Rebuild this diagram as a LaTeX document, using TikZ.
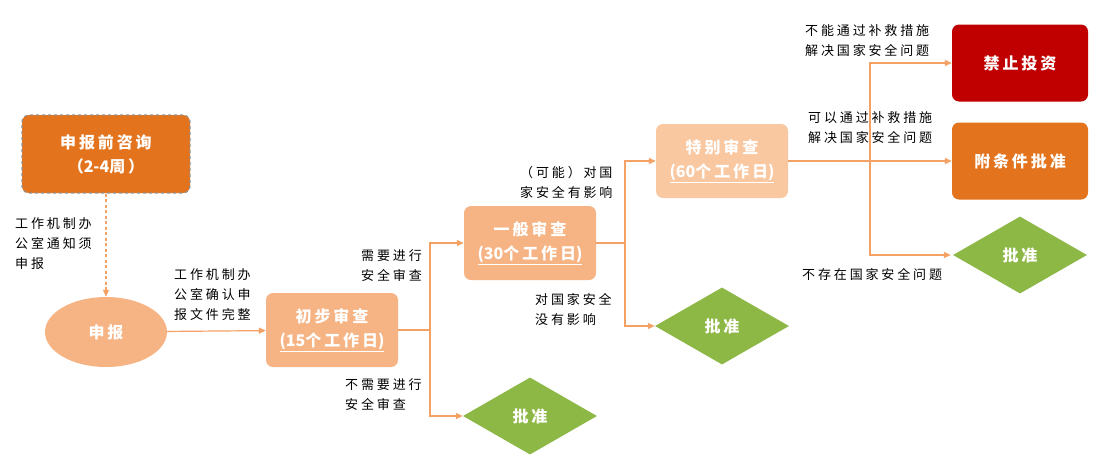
\documentclass[tikz,border=0pt]{standalone}
\usepackage{fontspec}
\setmainfont{Noto Sans CJK SC}
\newfontfamily\boxcjk[LetterSpace=18]{Noto Sans CJK SC}
\newfontfamily\labcjk[LetterSpace=22]{Noto Sans CJK SC}
\newfontfamily\digcjk{Noto Sans CJK SC}
\def\boxfont{\boxcjk\fontsize{16}{24}\selectfont\bfseries}
\def\labfont{\labcjk\fontsize{13}{20}\selectfont}
\def\dig#1{{\digcjk\bfseries #1}}
\usetikzlibrary{shapes.geometric,arrows.meta}
\definecolor{deeporange}{HTML}{E3731D}
\definecolor{softorange}{HTML}{F6B484}
\definecolor{paleorange}{HTML}{F9C7A0}
\definecolor{okgreen}{HTML}{8DB845}
\definecolor{banred}{HTML}{C00000}
\definecolor{lineorange}{HTML}{F3A164}
\begin{document}
\begin{tikzpicture}[x=1pt,y=-1pt,
			consult/.style={rectangle,rounded corners=7pt,draw=gray!85,dashed,line width=1.2pt,fill=deeporange,minimum width=168pt,minimum height=78pt,align=center,text=white,font=\boxfont},
			review/.style={rectangle,rounded corners=7pt,fill=softorange,minimum width=132pt,minimum height=74pt,align=center,text=white,font=\boxfont},
			report/.style={ellipse,fill=softorange,minimum width=122pt,minimum height=70pt,inner sep=0pt,text=white,font=\boxfont},
			approve/.style={diamond,fill=okgreen,minimum width=134pt,minimum height=77pt,inner sep=0pt,text=white,font=\boxfont},
			result/.style={rectangle,rounded corners=7pt,minimum width=136pt,minimum height=77pt,align=center,text=white,font=\boxfont},
			flow/.style={draw=lineorange,line width=1.2pt,-{Triangle[length=7pt,width=6pt]}},
			link/.style={draw=lineorange,line width=1.2pt},
			labl/.style={anchor=north west,align=left,inner sep=0pt,font=\labfont}]
			\fill [white] (0,0) rectangle (1108,472);
			\useasboundingbox (0,0) rectangle (1108,472);
			\node [consult]		(consult)	at (106,154)	{申报前咨询\\（\dig{2-4}周）};
			\node [report]		(report)	at (106,332)	{申报};
			\node [review]		(prelim)	at (332,330)	{初步审查\\\underline{\dig{(15}个工作日\dig{)}}};
			\node [review]		(general)	at (530,243)	{一般审查\\\underline{\dig{(30}个工作日\dig{)}}};
			\node [review,fill=paleorange]	(special)	at (722,161)	{特别审查\\\underline{\dig{(60}个工作日\dig{)}}};
			\node [approve]		(okA)		at (530,416)	{批准};
			\node [approve]		(okB)		at (722,326)	{批准};
			\node [approve]		(okC)		at (1020,255)	{批准};
			\node [result,fill=banred]		(ban)		at (1020,63)	{禁止投资};
			\node [result,fill=deeporange]	(cond)		at (1020,161)	{附条件批准};
			\coordinate (jA) at (430,330);
			\coordinate (jB) at (625,243);
			\coordinate (jC) at (870,161);
			\draw [flow,dash pattern=on 3pt off 2.5pt] (consult) -- (report);
			\draw [flow] (report) -- (prelim);
			\draw [link] (prelim) -- (jA);
			\draw [flow] (jA) |- (general);
			\draw [flow] (jA) |- (okA);
			\draw [link] (general) -- (jB);
			\draw [flow] (jB) |- (special);
			\draw [flow] (jB) |- (okB);
			\draw [flow] (special) -- (cond);
			\draw [flow] (jC) |- (ban);
			\draw [flow] (jC) |- ([xshift=-2pt]okC.west);
			\node [labl] (lnotice)	at (15,217)		{工作机制办\\公室通知须\\申报};
			\node [labl] (lconfirm)	at (174,268)	{工作机制办\\公室确认申\\报文件完整};
			\node [labl] (lneed)		at (361,249)	{需要进行\\安全审查};
			\node [labl] (lnoneed)	at (345,378)	{不需要进行\\安全审查};
			\node [labl] (lmaybe)	at (520,166)	{（可能）对国\\家安全有影响};
			\node [labl] (lnone)		at (535,293)	{对国家安全\\没有影响};
			\node [labl] (lcannot)	at (805,24)		{不能通过补救措施\\解决国家安全问题};
			\node [labl] (lcan)		at (808,111)	{可以通过补救措施\\解决国家安全问题};
			\node [labl] (lfree)		at (802,268)	{不存在国家安全问题};
\end{tikzpicture}
\end{document}
